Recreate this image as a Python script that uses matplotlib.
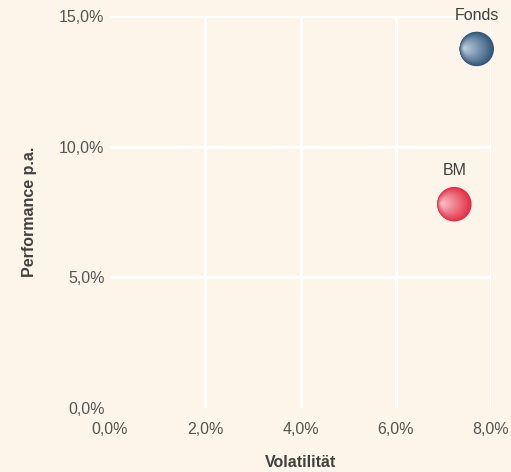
import numpy as np
import matplotlib
matplotlib.use("Agg")
import matplotlib.pyplot as plt
from matplotlib.colors import to_rgb
from matplotlib.transforms import ScaledTranslation

# ---------------- data ----------------
names = ["Fonds", "BM"]
volatility = [7.70, 7.23]     # in %
performance = [13.74, 7.80]   # in %
edge_colors = ["#2d5279", "#e22a41"]
light_colors = ["#c3d1df", "#f9c4cc"]

x_ticks = [0, 2, 4, 6, 8]
y_ticks = [0, 5, 10, 15]

bg = "#fdf5e9"
plt.rcParams["font.family"] = ["Liberation Sans", "DejaVu Sans"]

fig = plt.figure(figsize=(5.11, 4.72), dpi=100, facecolor=bg)
ax = fig.add_axes([0.2153, 0.1356, 0.7456, 0.8305], facecolor=bg)

ax.set_xlim(0, 8)
ax.set_ylim(0, 15)
for v in x_ticks[1:]:
    ax.axvline(v, color="white", lw=2.2, zorder=1)
for v in y_ticks[1:]:
    ax.axhline(v, color="white", lw=2.2, zorder=1)
for s in ax.spines.values():
    s.set_visible(False)

ax.set_xticks(x_ticks)
ax.set_xticklabels([f"{v:.1f}%".replace(".", ",") for v in x_ticks])
ax.set_yticks(y_ticks)
ax.set_yticklabels([f"{v:.1f}%".replace(".", ",") for v in y_ticks])
ax.tick_params(axis="x", length=0, pad=10, labelsize=11.5, labelcolor="#555555")
ax.tick_params(axis="y", length=0, pad=4, labelsize=11.5, labelcolor="#555555")

ax.set_xlabel("Volatilität", fontsize=11.5, fontweight="bold", color="#404040", labelpad=13)
ax.set_ylabel("Performance p.a.", fontsize=11.5, fontweight="bold", color="#404040", labelpad=16)

# bubbles with a radial gradient (focus at left side)
R = 12.4          # radius in points
n = 40
for x, y, name, ec, lc in zip(volatility, performance, names, edge_colors, light_colors):
    c0 = np.array(to_rgb(ec))
    c1 = np.array(to_rgb(lc))
    for k in range(n):
        t = k / n
        r = R * (1 - t)
        dx = -R * 0.75 * t
        dy = R * 0.05 * t
        col = c0 + (c1 - c0) * t ** 0.9
        off = ax.transData + ScaledTranslation(dx / 72, dy / 72, fig.dpi_scale_trans)
        ax.scatter([x], [y], s=(2 * r) ** 2, color=col, edgecolors="none",
                   transform=off, zorder=3 + k * 0.01, clip_on=False)
    ax.annotate(name, (x, y), xytext=(0, 24), textcoords="offset points",
                ha="center", va="center", fontsize=11.5, color="#404040", zorder=5)

fig.savefig("out.png", dpi=100, facecolor=bg)
